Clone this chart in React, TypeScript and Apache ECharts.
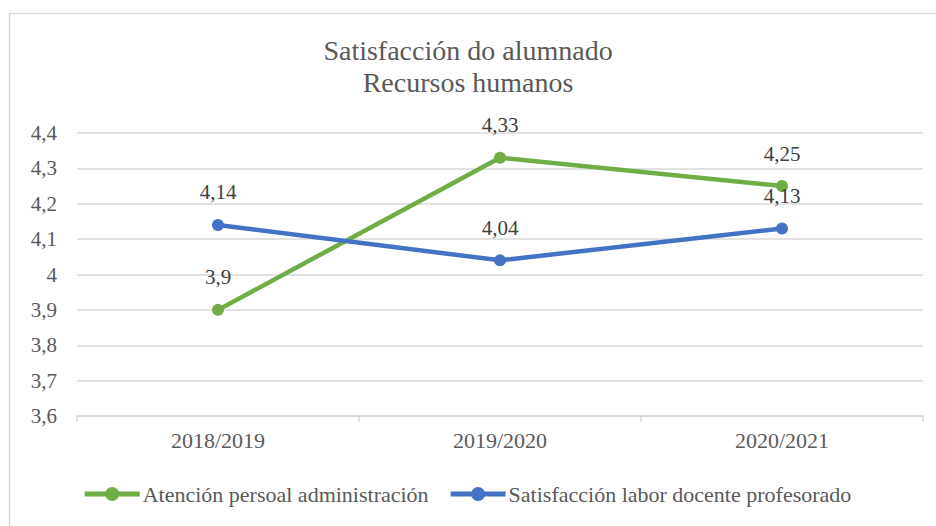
import React, { useEffect, useRef } from "react";
import * as echarts from "echarts";

const categories = ["2018/2019", "2019/2020", "2020/2021"];
const atencionPersoal = [3.9, 4.33, 4.25];
const laborDocente = [4.14, 4.04, 4.13];
const seriesNames = ["Atención persoal administración", "Satisfacción labor docente profesorado"];
const titleLines = ["Satisfacción do alumnado", "Recursos humanos"];

const fmt = (v: number) => String(Math.round(v * 100) / 100).replace(".", ",");
const FONT = "Liberation Serif";
const LEGEND_ICON =
  "path://M0,4.5H55V9.5H0Z M20.5,7A7,7 0 1 1 34.5,7A7,7 0 1 1 20.5,7Z";

export default function App() {
  const ref = useRef<HTMLDivElement>(null);
  useEffect(() => {
    if (!ref.current) return;
    const chart = echarts.init(ref.current, null, { renderer: "svg" });
    const label = {
      show: true,
      position: "top",
      distance: 16,
      color: "#404040",
      fontSize: 21,
      fontFamily: FONT,
      formatter: (p: any) => fmt(p.value),
    };
    chart.setOption({
      animation: false,
      backgroundColor: "#ffffff",
      textStyle: { fontFamily: FONT },
      graphic: [
        {
          type: "rect",
          shape: { x: 9.5, y: 13.5, width: 940, height: 530 },
          style: { fill: "none", stroke: "#d9d9d9", lineWidth: 1.5 },
          silent: true,
        },
      ],
      title: {
        text: titleLines.join("\n"),
        left: "center",
        top: 29,
        textStyle: {
          fontFamily: FONT,
          fontSize: 28,
          fontWeight: "normal",
          color: "#595959",
          lineHeight: 32,
        },
      },
      legend: {
        bottom: 16,
        left: "center",
        itemWidth: 55,
        itemHeight: 14,
        itemGap: 22,
        icon: LEGEND_ICON,
        textStyle: { fontFamily: FONT, fontSize: 22, color: "#595959", padding: [0, 0, 0, -2] },
        data: seriesNames,
      },
      grid: { left: 77, right: 13, top: 133, bottom: 110 },
      xAxis: {
        type: "category",
        data: categories,
        boundaryGap: true,
        axisLine: { show: true, lineStyle: { color: "#d9d9d9", width: 1.5 } },
        axisTick: { show: true, length: 6, lineStyle: { color: "#d9d9d9", width: 1.5 } },
        axisLabel: { color: "#595959", fontSize: 22, fontFamily: FONT, margin: 13 },
        splitLine: { show: false },
      },
      yAxis: {
        type: "value",
        min: 3.6,
        max: 4.4,
        interval: 0.1,
        axisLine: { show: false },
        axisTick: { show: false },
        axisLabel: {
          color: "#595959",
          fontSize: 21,
          fontFamily: FONT,
          margin: 20,
          formatter: (v: number) => fmt(Math.round(v * 10) / 10),
        },
        splitLine: { lineStyle: { color: "#d9d9d9", width: 1.5 } },
      },
      series: [
        {
          name: seriesNames[0],
          type: "line",
          data: atencionPersoal,
          color: "#70AD47",
          symbol: "circle",
          symbolSize: 12,
          lineStyle: { width: 4.5, color: "#70AD47" },
          itemStyle: { color: "#70AD47" },
          label,
        },
        {
          name: seriesNames[1],
          type: "line",
          data: laborDocente,
          color: "#4472C4",
          symbol: "circle",
          symbolSize: 12,
          lineStyle: { width: 4.5, color: "#4472C4" },
          itemStyle: { color: "#4472C4" },
          label,
        },
      ],
    });
    return () => chart.dispose();
  }, []);
  return (
    <div
      ref={ref}
      style={{ position: "fixed", left: 0, top: 0, width: 936, height: 526, background: "#fff" }}
    />
  );
}
